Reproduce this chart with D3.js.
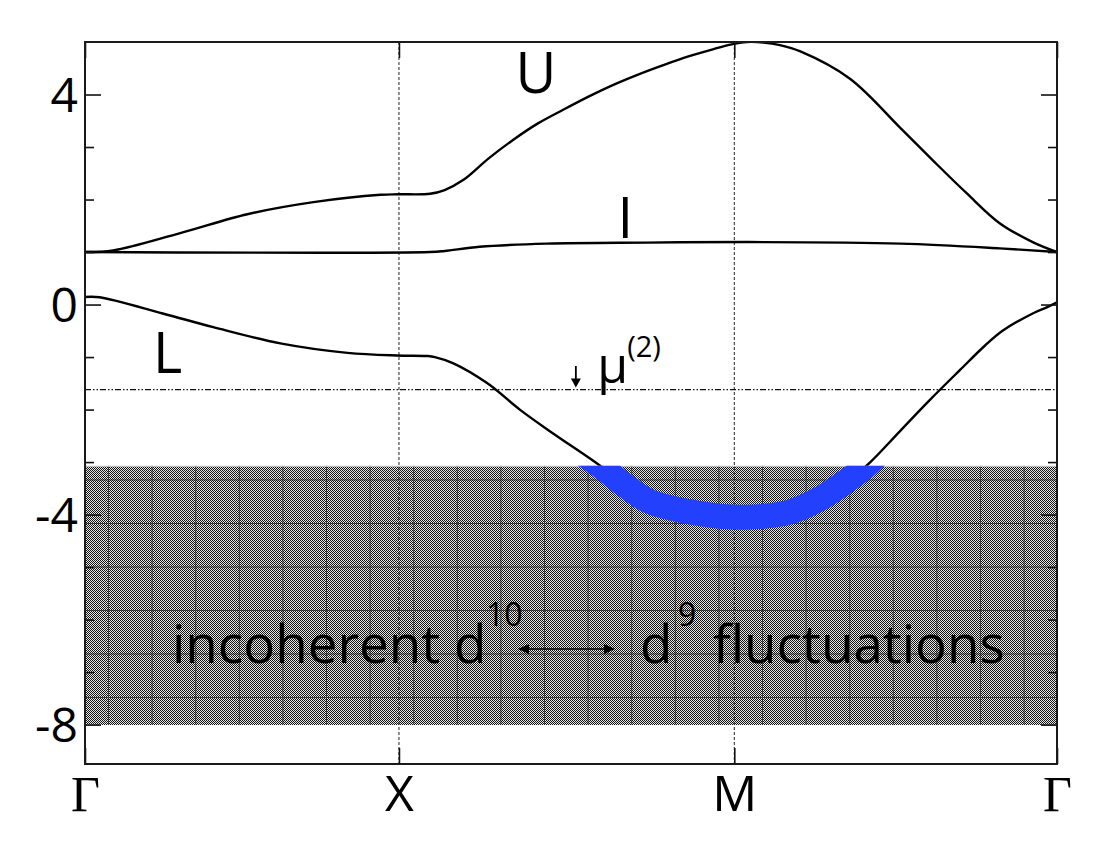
<!DOCTYPE html>
<html>
<head>
<meta charset="utf-8">
<script src="https://cdn.jsdelivr.net/npm/d3@7"></script>
<style>
  html, body { margin: 0; padding: 0; background: #fff; }
  svg { display: block; }
</style>
</head>
<body>
<svg id="chart" width="1100" height="850"></svg>
<script>
// ---------------- data ----------------
// k-path positions (fraction of path) and labels
const kTicks = [0, 0.323, 0.668, 1.0];
const kLabels = ["Γ", "X", "M", "Γ"];
const yMajor = [-8, -4, 0, 4];
const yMinor = [-7, -6, -5, -3, -2, -1, 1, 2, 3];
const yLabels = ["-8", "-4", "0", "4"];

// Upper Hubbard band U  [k, E]
const bandU = [[0,1.0],[0.029,1.03],[0.098,1.36],[0.167,1.72],[0.235,1.95],[0.304,2.09],[0.323,2.1],[0.355,2.11],[0.37,2.18],[0.389,2.37],[0.415,2.78],[0.440,3.13],[0.466,3.45],[0.492,3.71],[0.518,3.96],[0.543,4.18],[0.569,4.38],[0.595,4.56],[0.620,4.72],[0.646,4.86],[0.664,4.95],[0.681,5.0],[0.698,4.99],[0.715,4.94],[0.736,4.82],[0.787,4.3],[0.839,3.36],[0.872,2.75],[0.907,2.12],[0.941,1.55],[0.975,1.19],[1.0,1.0]];
// Intermediate band I
const bandI = [[0,1.0],[0.355,1.0],[0.37,1.02],[0.406,1.10],[0.475,1.16],[0.578,1.18],[0.681,1.19],[0.839,1.16],[0.941,1.07],[1.0,1.0]];
// Lower band L
const bandL = [[0,0.145],[0.015,0.14],[0.080,-0.17],[0.132,-0.43],[0.201,-0.74],[0.270,-0.92],[0.321,-0.97],[0.352,-0.98],[0.360,-1.0],[0.379,-1.12],[0.414,-1.5],[0.448,-2.01],[0.482,-2.46],[0.530,-3.07],[0.556,-3.45],[0.581,-3.75],[0.633,-3.98],[0.679,-4.05],[0.725,-3.95],[0.756,-3.7],[0.782,-3.38],[0.804,-3.07],[0.839,-2.4],[0.869,-1.82],[0.900,-1.25],[0.926,-0.78],[0.944,-0.5],[0.975,-0.17],[0.990,-0.05],[1.0,0.04]];

const mu2 = -1.62;                 // chemical potential line
const incoherent = [-8, -3.07];    // incoherent continuum range (E)

// Annotation anchors [k, E]
const labelU = [0.464, 4.03];
const labelI = [0.556, 1.27];
const labelL = [0.085, -1.30];
const labelMu = [0.527, -1.50];
const muArrow = [0.505, -1.17, -1.58];  // k, from E, to E
const textIncoh = [0.0895, -6.83];
const textD10sup = [0.4125, -6.13];
const dblArrow = [0.4455, 0.5453, -6.56];
const textD9 = [0.571, -6.83];
const textD9sup = [0.610, -6.13];
const textFluct = [0.646, -6.83];

// ---------------- layout ----------------
const L = 85, R = 1057, T = 42, B = 764;
const x = d3.scaleLinear().domain([0, 1]).range([L, R]);
const y = d3.scaleLinear().domain([-8.75, 5]).range([B, T]);

const svg = d3.select("#chart");
const defs = svg.append("defs");
const sans = "'Open Sans', 'Noto Sans', sans-serif";

// checker dither pattern
const chk = defs.append("pattern").attr("id", "checker")
  .attr("patternUnits", "userSpaceOnUse").attr("width", 2).attr("height", 2);
chk.append("rect").attr("width", 2).attr("height", 2).attr("fill", "#e6e6e6");
chk.append("rect").attr("width", 1).attr("height", 1).attr("fill", "#141414");
chk.append("rect").attr("x", 1).attr("y", 1).attr("width", 1).attr("height", 1).attr("fill", "#141414");

// tile grid pattern
const grd = defs.append("pattern").attr("id", "tilegrid")
  .attr("patternUnits", "userSpaceOnUse").attr("width", 43.6).attr("height", 43.5)
  .attr("x", 108).attr("y", 697);
grd.append("line").attr("x1", 0.5).attr("x2", 0.5).attr("y1", 0).attr("y2", 43.5)
  .attr("stroke", "#222").attr("stroke-width", 1);
grd.append("line").attr("x1", 0).attr("x2", 43.6).attr("y1", 0.5).attr("y2", 0.5)
  .attr("stroke", "#222").attr("stroke-width", 1);

// clips
defs.append("clipPath").attr("id", "clipAbove").append("rect")
  .attr("x", L).attr("y", T).attr("width", R - L).attr("height", y(incoherent[1]) - T);
defs.append("clipPath").attr("id", "clipShade").append("rect")
  .attr("x", L).attr("y", y(incoherent[1])).attr("width", R - L)
  .attr("height", y(incoherent[0]) - y(incoherent[1]));
defs.append("clipPath").attr("id", "clipPlot").append("rect")
  .attr("x", L).attr("y", T).attr("width", R - L).attr("height", B - T);

// shaded incoherent region
const shadeY = y(incoherent[1]), shadeH = y(incoherent[0]) - y(incoherent[1]);
svg.append("rect").attr("x", L).attr("y", shadeY).attr("width", R - L).attr("height", shadeH)
  .attr("fill", "url(#checker)").attr("shape-rendering", "crispEdges");
svg.append("rect").attr("x", L).attr("y", shadeY).attr("width", R - L).attr("height", shadeH)
  .attr("fill", "url(#tilegrid)").attr("opacity", 0.75);
svg.append("line").attr("x1", L).attr("x2", R).attr("y1", shadeY + 0.5).attr("y2", shadeY + 0.5)
  .attr("stroke", "#cfcfcf").attr("stroke-width", 1);

// vertical dashed lines at X and M
svg.append("g").selectAll("line").data(kTicks.slice(1, 3)).join("line")
  .attr("x1", d => x(d)).attr("x2", d => x(d)).attr("y1", T).attr("y2", B)
  .attr("stroke", "#222").attr("stroke-width", 1).attr("stroke-dasharray", "3,2");

// mu line
svg.append("line").attr("x1", L).attr("x2", R).attr("y1", y(mu2)).attr("y2", y(mu2))
  .attr("stroke", "#111").attr("stroke-width", 1.2).attr("stroke-dasharray", "6,2,1.5,2,1.5,2");

// bands
const line = d3.line().x(d => x(d[0])).y(d => y(d[1])).curve(d3.curveCatmullRom.alpha(0.5));
const bands = svg.append("g").attr("fill", "none").attr("stroke-linecap", "round");
bands.append("path").datum(bandU).attr("d", line).attr("stroke", "#000").attr("stroke-width", 2.4)
  .attr("clip-path", "url(#clipPlot)");
bands.append("path").datum(bandI).attr("d", line).attr("stroke", "#000").attr("stroke-width", 2.4)
  .attr("clip-path", "url(#clipPlot)");
bands.append("path").datum(bandL).attr("d", line).attr("stroke", "#000").attr("stroke-width", 2.4)
  .attr("clip-path", "url(#clipAbove)");
bands.append("path").datum(bandL).attr("d", line).attr("stroke", "#2340fd").attr("stroke-width", 25)
  .attr("stroke-linecap", "butt").attr("clip-path", "url(#clipShade)");

// ---------------- axes ----------------
function styleAxis(g) {
  g.select(".domain").remove();
  g.selectAll(".tick line").attr("stroke", "#111").attr("stroke-width", 1.6);
}
// left major
svg.append("g").attr("transform", `translate(${L},0)`)
  .call(d3.axisLeft(y).tickValues(yMajor).tickSizeInner(-16).tickSizeOuter(0).tickPadding(7)
    .tickFormat((d, i) => yLabels[i]))
  .call(styleAxis)
  .call(g => g.selectAll("text").attr("font-family", sans).attr("font-size", 48).attr("fill", "#000")
    .attr("dy", "0.36em"));
// left minor
svg.append("g").attr("transform", `translate(${L},0)`)
  .call(d3.axisLeft(y).tickValues(yMinor).tickSizeInner(-9).tickSizeOuter(0).tickFormat(""))
  .call(styleAxis);
// right major / minor
svg.append("g").attr("transform", `translate(${R},0)`)
  .call(d3.axisRight(y).tickValues(yMajor).tickSizeInner(-16).tickSizeOuter(0).tickFormat(""))
  .call(styleAxis);
svg.append("g").attr("transform", `translate(${R},0)`)
  .call(d3.axisRight(y).tickValues(yMinor).tickSizeInner(-9).tickSizeOuter(0).tickFormat(""))
  .call(styleAxis);
// bottom
svg.append("g").attr("transform", `translate(0,${B})`)
  .call(d3.axisBottom(x).tickValues(kTicks).tickSizeInner(-16).tickSizeOuter(0).tickPadding(8)
    .tickFormat((d, i) => kLabels[i]))
  .call(styleAxis)
  .call(g => g.selectAll("text").attr("font-size", 50).attr("fill", "#000").attr("dy", "0.78em")
    .attr("font-family", (d, i) => kLabels[i] === "Γ" ? "'Liberation Serif', 'DejaVu Serif', serif" : sans));
// top
svg.append("g").attr("transform", `translate(0,${T})`)
  .call(d3.axisTop(x).tickValues(kTicks).tickSizeInner(-16).tickSizeOuter(0).tickFormat(""))
  .call(styleAxis);

// frame
svg.append("rect").attr("x", L).attr("y", T).attr("width", R - L).attr("height", B - T)
  .attr("fill", "none").attr("stroke", "#1a1a1a").attr("stroke-width", 2);

// ---------------- annotations ----------------
function txt(pos, s, size, anchor) {
  return svg.append("text").attr("x", x(pos[0])).attr("y", y(pos[1]))
    .attr("font-family", sans).attr("font-size", size).attr("fill", "#000")
    .attr("text-anchor", anchor || "start").text(s);
}
txt(labelU, "U", 56, "middle");
txt(labelI, "I", 56, "middle");
txt(labelL, "L", 56, "middle");
txt(labelMu, "μ", 50);
svg.append("text").attr("x", x(labelMu[0]) + 30).attr("y", y(labelMu[1]) - 26)
  .attr("font-family", sans).attr("font-size", 29).attr("fill", "#000").text("(2)");

// small down arrow
const ax = x(muArrow[0]), ay0 = y(muArrow[1]), ay1 = y(muArrow[2]);
svg.append("line").attr("x1", ax).attr("x2", ax).attr("y1", ay0).attr("y2", ay1 - 5)
  .attr("stroke", "#000").attr("stroke-width", 1.8);
svg.append("path").attr("d", `M${ax - 5},${ay1 - 9} L${ax},${ay1} L${ax + 5},${ay1 - 9} Z`).attr("fill", "#000");

// incoherent text
txt(textIncoh, "incoherent d", 53);
txt(textD10sup, "10", 32);
txt(textD9, "d", 53);
txt(textD9sup, "9", 32);
txt(textFluct, "fluctuations", 53);

// double arrow
const dx0 = x(dblArrow[0]), dx1 = x(dblArrow[1]), dy = y(dblArrow[2]);
svg.append("line").attr("x1", dx0 + 4).attr("x2", dx1 - 4).attr("y1", dy).attr("y2", dy)
  .attr("stroke", "#000").attr("stroke-width", 1.6);
svg.append("path").attr("d", `M${dx0 + 11},${dy - 5} L${dx0},${dy} L${dx0 + 11},${dy + 5} Z`).attr("fill", "#000");
svg.append("path").attr("d", `M${dx1 - 11},${dy - 5} L${dx1},${dy} L${dx1 - 11},${dy + 5} Z`).attr("fill", "#000");
</script>
</body>
</html>
